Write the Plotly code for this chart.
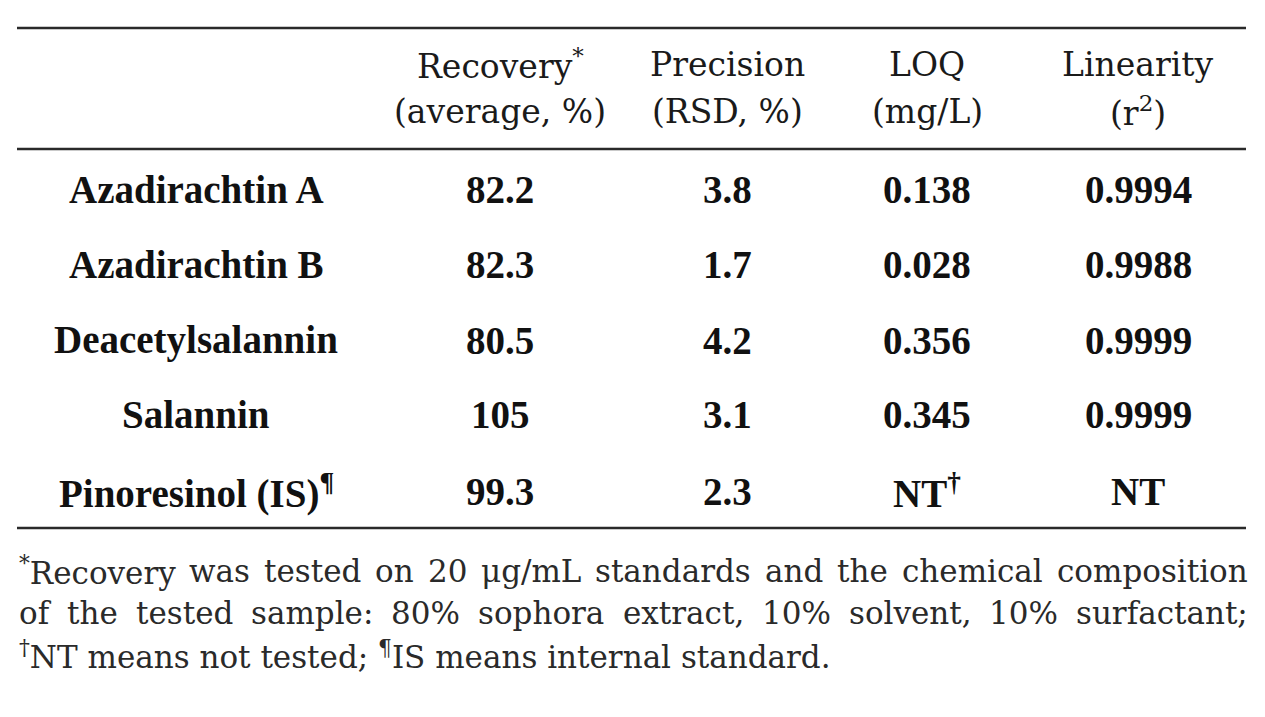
import re
import plotly.graph_objects as go

# table content
compounds = ["Azadirachtin A", "Azadirachtin B", "Deacetylsalannin", "Salannin",
             "Pinoresinol (IS)<sup>¶</sup>"]
recovery = ["82.2", "82.3", "80.5", "105", "99.3"]
precision = ["3.8", "1.7", "4.2", "3.1", "2.3"]
loq = ["0.138", "0.028", "0.356", "0.345", "NT<sup>†</sup>"]
linearity = ["0.9994", "0.9988", "0.9999", "0.9999", "NT"]

header_top = ["", "Recovery<sup>*</sup>", "Precision", "LOQ", "Linearity"]
header_bottom = ["", "(average, %)", "(RSD, %)", "(mg/L)", "(r<sup>2</sup>)"]

footnotes = [
    "<sup>*</sup>Recovery was tested on 20 μg/mL standards and the chemical composition",
    "of the tested sample: 80% sophora extract, 10% solvent, 10% surfactant;",
    "<sup>†</sup>NT means not tested; <sup>¶</sup>IS means internal standard.",
]

W, H = 1265, 717
PAD = 8  # page body margin around the plot div
BODY_FONT = "Liberation Serif, Times New Roman, serif"
HEAD_FONT = "DejaVu Serif, serif"
col_x = [196, 500, 727, 927, 1138]
head_y = [64, 111]
row_y = [189, 264, 340, 414, 491]
rule_y = [28, 149, 528]
left, right = 17, 1246
foot_y = [571, 613, 655]
foot_size = 31

# rough DejaVu Serif advance widths (per em) for the justified footnote
widths = {
    'a': .596, 'b': .640, 'c': .560, 'd': .640, 'e': .592, 'f': .370, 'g': .640,
    'h': .644, 'i': .320, 'j': .310, 'k': .606, 'l': .320, 'm': .948, 'n': .644,
    'o': .602, 'p': .640, 'q': .640, 'r': .478, 's': .513, 't': .402, 'u': .644,
    'v': .565, 'w': .856, 'x': .564, 'y': .565, 'z': .527, ' ': .318, '%': .950,
    ':': .337, ';': .337, ',': .318, '.': .318, '/': .337, 'μ': .650, 'R': .710,
    'L': .637, 'N': .837, 'T': .683, 'I': .365, 'S': .650, '*': .5, '†': .5,
    '¶': .636,
}


def word_width(word, size):
    total = 0
    for part in re.split(r"(<sup>.*?</sup>)", word):
        if part.startswith("<sup>"):
            total += sum(widths.get(c, .636) for c in part[5:-6]) * 0.7
        else:
            total += sum(widths.get(c, .636) for c in part)
    return total * size


fig = go.Figure()
fig.add_trace(go.Scatter(x=[PAD, W - PAD], y=[PAD, H - PAD], mode="markers",
                         marker=dict(opacity=0), hoverinfo="skip", showlegend=False))

for i, (a, b) in enumerate(zip(header_top, header_bottom)):
    for txt, yy in ((a, head_y[0]), (b, head_y[1])):
        if txt:
            fig.add_annotation(x=col_x[i], y=yy, text=txt, showarrow=False,
                               xanchor="center", yanchor="middle",
                               font=dict(family=HEAD_FONT, size=33, color="#1a1a1a"))

columns = [compounds, recovery, precision, loq, linearity]
for i, col in enumerate(columns):
    for j, txt in enumerate(col):
        fig.add_annotation(x=col_x[i], y=row_y[j], text="<b>" + txt + "</b>",
                           showarrow=False, xanchor="center", yanchor="middle",
                           font=dict(family=BODY_FONT, size=39, color="#111111"))

for yy in rule_y:
    fig.add_shape(type="line", x0=left, x1=right, y0=yy, y1=yy,
                  line=dict(color="#2a2a2a", width=2.5))

# footnote: first lines justified, last line flush left
for k, line in enumerate(footnotes):
    words = line.split(" ")
    if k < len(footnotes) - 1:
        ws = [word_width(w, foot_size) for w in words]
        gap = max((right - left - sum(ws)) / (len(words) - 1), 0.2 * foot_size)
        xx = left
        for w, wd in zip(words, ws):
            fig.add_annotation(x=xx, y=foot_y[k], text=w, showarrow=False,
                               xanchor="left", yanchor="middle",
                               font=dict(family=HEAD_FONT, size=foot_size, color="#2a2a2a"))
            xx += wd + gap
    else:
        fig.add_annotation(x=left, y=foot_y[k], text=line, showarrow=False,
                           xanchor="left", yanchor="middle",
                           font=dict(family=HEAD_FONT, size=foot_size, color="#2a2a2a"))

# axes in page pixels, so the 8px body margin is accounted for
fig.update_xaxes(range=[PAD, W - PAD], visible=False, fixedrange=True)
fig.update_yaxes(range=[H - PAD, PAD], visible=False, fixedrange=True)
fig.update_layout(width=W - 2 * PAD, height=H - 2 * PAD,
                  margin=dict(l=0, r=0, t=0, b=0),
                  plot_bgcolor="white", paper_bgcolor="white", showlegend=False)

fig.write_html("out.html")
